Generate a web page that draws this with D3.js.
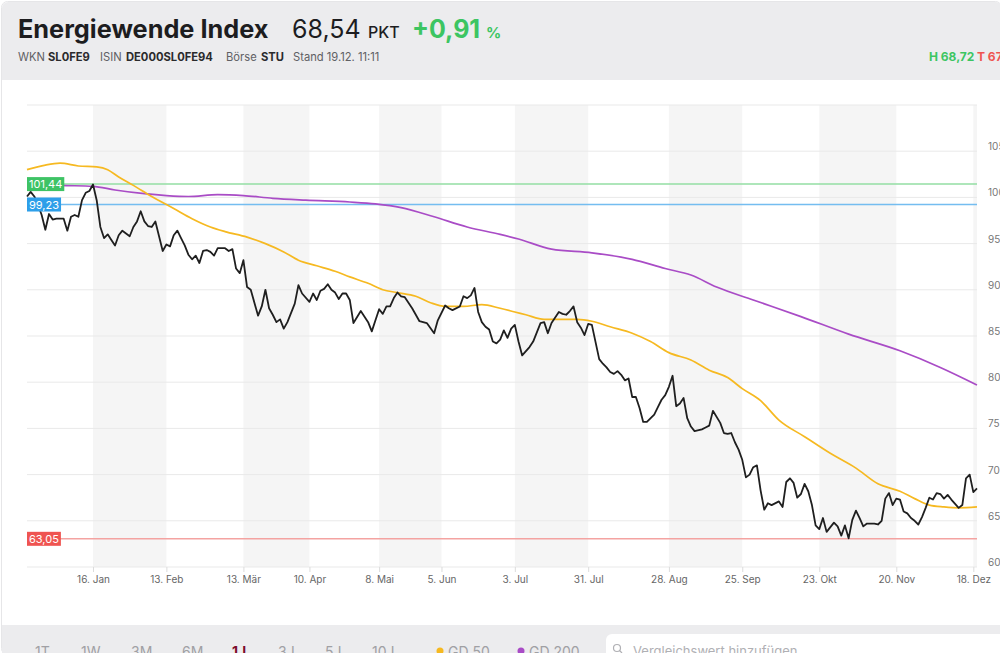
<!DOCTYPE html>
<html>
<head>
<meta charset="utf-8">
<script src="https://cdn.jsdelivr.net/npm/d3@7"></script>
<style>
  body { margin: 0; background: #fff; font-family: Inter, "Noto Sans", sans-serif; }
  svg { display: block; }
  .axis text { font-family: Inter, "Noto Sans", sans-serif; }
</style>
</head>
<body>
<div id="chart"></div>
<script>
// Handelstage seit 20.12.2022 (Index) und Schlusskurse
const priceDay = [0,1,2,3,4,5,6,7,8,10,11,12,13,14,15,16,17,18,19,20,21,22,23,24,25,26,28,29,30,31,32,33,34,35,36,37,38,39,40,41,42,43,44,45,46,47,48,49,50,51,52,54,55,56,57,58,59,60,61,63,64,65,66,67,68,69,70,71,73,74,75,77,78,79,80,81,82,83,84,85,86,87,88,89,91,93,94,95,96,97,98,99,100,101,102,103,105,107,108,109,111,112,114,115,116,118,119,120,121,122,123,124,125,126,127,128,129,130,131,132,133,134,135,137,138,140,141,142,143,144,145,146,147,148,149,150,151,152,153,154,156,157,158,159,160,161,162,163,164,165,166,167,168,169,171,172,173,174,175,176,177,178,179,180,181,182,184,185,186,187,189,190,191,192,193,194,195,196,197,198,199,200,201,202,203,205,206,207,208,209,210,211,212,213,214,215,216,217,218,220,221,222,223,224,225,226,227,228,229,231,232,233,234,235,236,237,238,239,240,241,242,243,244,245,246,247,248,249,250,251,252,254,255,256,257,258,259];
const priceValue = [100.1,100.6,100.1,99.2,98.1,96.5,98.2,97.6,97.7,97.7,96.4,97.9,98.1,97.9,99.7,100.5,100.7,101.4,99.7,96.8,95.6,96.0,95.4,94.8,95.9,96.4,95.8,96.8,97.4,98.5,97.4,96.9,96.8,97.4,95.8,94.2,94.9,94.7,95.9,96.4,95.6,94.8,93.8,93.3,93.7,92.9,94.2,94.3,94.1,93.7,94.5,94.5,94.2,94.4,92.3,91.8,93.2,90.3,90.0,87.2,88.2,90.0,88.0,87.3,86.5,86.8,85.8,86.5,88.5,90.5,89.6,88.7,89.6,88.9,89.9,90.1,90.6,90.0,89.7,89.0,89.6,89.6,88.9,86.4,87.7,86.5,85.5,86.7,87.9,87.4,88.2,88.2,89.1,89.7,89.3,89.2,88.0,86.6,86.5,86.4,85.3,86.7,88.3,88.0,87.8,88.2,89.3,89.1,89.4,90.2,87.6,86.5,86.0,85.7,84.4,84.2,84.6,85.6,84.8,85.8,86.2,84.4,82.9,83.8,84.4,86.4,86.5,85.3,86.4,87.0,87.6,87.4,87.3,87.7,88.2,86.5,85.9,85.1,86.3,86.2,82.5,82.0,81.6,81.1,80.9,81.2,80.8,80.2,80.4,78.4,78.4,77.2,75.7,75.7,76.5,77.3,78.1,78.6,79.5,80.7,77.4,77.7,78.3,76.1,75.2,74.7,74.9,75.1,75.3,76.9,75.6,74.5,74.4,74.5,73.5,72.7,71.6,69.7,70.0,70.8,71.0,68.3,66.2,66.9,66.7,67.1,66.5,69.2,69.6,69.1,67.5,67.9,69.0,68.2,66.7,64.5,64.1,65.3,63.8,64.8,64.4,63.4,64.5,63.1,65.1,66.1,65.3,64.4,64.7,64.7,64.6,65.0,67.4,68.0,66.7,67.4,67.3,66.0,65.8,65.3,65.0,64.6,65.4,66.4,67.5,67.3,68.0,67.9,67.4,67.8,67.3,66.4,66.7,69.6,70.0,68.1,68.5];

// gleitende Durchschnitte
const gd50Day = [0,5,9,14,19,22,25,29,34,40,45,50,54,60,65,70,74,79,84,88,93,97,101,106,110,114,119,124,129,133,136,141,145,150,154,159,165,170,175,181,186,191,195,200,205,212,219,226,232,238,242,246,250,254,259];
const gd50Value = [103.0,103.5,103.7,103.4,103.3,103.0,102.2,101.3,100.1,98.8,97.7,96.8,96.3,95.7,95.0,94.1,93.2,92.6,92.0,91.4,90.7,90.0,89.7,89.3,88.6,88.2,88.2,88.4,88.0,87.6,87.3,86.8,86.8,86.8,86.6,86.0,85.3,84.4,83.2,82.4,81.3,80.5,79.3,78.0,75.9,74.1,72.3,70.7,69.0,68.2,67.4,66.7,66.5,66.4,66.5];
const gd200Day = [0,9,18,24,32,38,44,52,59,67,76,88,95,102,111,120,129,134,143,154,165,174,181,188,198,211,224,238,249,259];
const gd200Value = [101.5,101.3,101.2,100.8,100.4,100.2,100.1,100.3,100.2,99.9,99.7,99.5,99.3,98.9,97.9,96.8,96.0,95.5,94.4,94.0,93.3,92.3,91.6,90.3,88.9,87.1,85.2,83.4,81.6,79.7];

// Achsen
const tickDay = [18,38,59,77,96,113,133,153,175,195,216,237,258];
const tickLabel = ['16. Jan','13. Feb','13. Mär','10. Apr','8. Mai','5. Jun','3. Jul','31. Jul','28. Aug','25. Sep','23. Okt','20. Nov','18. Dez'];
const yTicks = [60,65,70,75,80,85,90,95,100,105];
const lastDay = 259;

// Hoch / Tief / Referenz
const refValue = [101.44, 99.23, 63.05];
const refLabel = ['101,44', '99,23', '63,05'];
const refLine = ['#93dea3', '#74bdf0', '#f4a3a1'];
const refBox = ['#3ec365', '#2e9fe9', '#ef5451'];

const W = 1000, H = 653;
const svg = d3.select('#chart').append('svg').attr('width', W).attr('height', H);

// Rahmen
svg.append('rect').attr('x', 1.5).attr('y', 1.5).attr('width', W).attr('height', H)
  .attr('rx', 6).attr('fill', '#fff').attr('stroke', '#e6e6e8');

// Kopfbereich
svg.append('rect').attr('x', 2).attr('y', 2).attr('width', W).attr('height', 78).attr('rx', 6).attr('fill', '#ececee');
svg.append('rect').attr('x', 2).attr('y', 40).attr('width', W).attr('height', 40).attr('fill', '#ececee');

const head = svg.append('g');
head.append('text').attr('x', 18).attr('y', 38).attr('font-size', 25.3).attr('font-weight', 700)
  .attr('fill', '#1d1d1f').text('Energiewende Index');
head.append('text').attr('x', 292).attr('y', 38).attr('font-size', 25).attr('font-weight', 400)
  .attr('fill', '#1d1d1f').text('68,54');
head.append('text').attr('x', 368).attr('y', 38).attr('font-size', 16).attr('font-weight', 500)
  .attr('fill', '#1d1d1f').text('PKT');
head.append('text').attr('x', 412).attr('y', 38).attr('font-size', 25).attr('font-weight', 700)
  .attr('fill', '#3cc562').text('+0,91');
head.append('text').attr('x', 486).attr('y', 38).attr('font-size', 15).attr('font-weight', 700)
  .attr('fill', '#3cc562').text('%');

const meta = [
  ['WKN', 18, 400], ['SL0FE9', 48, 700], ['ISIN', 100, 400], ['DE000SL0FE94', 126, 700],
  ['Börse', 226, 400], ['STU', 261, 700], ['Stand 19.12. 11:11', 293, 400]
];
head.selectAll('text.meta').data(meta).enter().append('text')
  .attr('class', 'meta')
  .attr('x', d => d[1]).attr('y', 61)
  .attr('font-size', 11.2)
  .attr('font-weight', d => d[2])
  .attr('fill', d => d[2] === 700 ? '#2a2a2c' : '#606064')
  .text(d => d[0]);
head.append('text').attr('x', 929).attr('y', 61).attr('font-size', 12).attr('font-weight', 700)
  .attr('fill', '#3cc562').text('H 68,72');
head.append('text').attr('x', 977).attr('y', 61).attr('font-size', 12).attr('font-weight', 700)
  .attr('fill', '#ef5451').text('T 67');

// Skalen
const x = d3.scaleLinear().domain([0, lastDay]).range([27, 977]);
const y = d3.scaleLinear().domain([60, 110]).range([567, 105]);

const plot = svg.append('g');

// Monatsstreifen
const bands = tickDay.filter((d, i) => i % 2 === 0)
  .map(d => [d, tickDay[tickDay.indexOf(d) + 1] || lastDay]);
plot.selectAll('rect.band').data(bands).enter().append('rect')
  .attr('class', 'band')
  .attr('x', d => x(d[0])).attr('width', d => x(d[1]) - x(d[0]))
  .attr('y', y(110)).attr('height', y(60) - y(110))
  .attr('fill', '#f5f5f5');

// Gitterlinien
plot.selectAll('line.grid').data(d3.range(60, 111, 5)).enter().append('line')
  .attr('class', 'grid')
  .attr('x1', x(0)).attr('x2', x(lastDay))
  .attr('y1', d => y(d)).attr('y2', d => y(d))
  .attr('stroke', '#e9e9e9').attr('stroke-width', 1);

// y-Beschriftung rechts
plot.selectAll('text.ylab').data(yTicks).enter().append('text')
  .attr('class', 'ylab')
  .attr('x', 988).attr('y', d => y(d) - 1)
  .attr('font-size', 10).attr('fill', '#777')
  .text(d => d);

// x-Achse
const xAxis = d3.axisBottom(x)
  .tickValues(tickDay)
  .tickFormat((d, i) => tickLabel[i])
  .tickSize(5)
  .tickPadding(4);
const gx = plot.append('g').attr('class', 'axis').attr('transform', 'translate(0,' + y(60) + ')').call(xAxis);
gx.select('.domain').remove();
gx.selectAll('line').attr('stroke', '#dcdcdc');
gx.selectAll('text').attr('font-size', 10).attr('fill', '#666');

// Referenzlinien
plot.selectAll('line.ref').data(refValue).enter().append('line')
  .attr('class', 'ref')
  .attr('x1', x(0)).attr('x2', x(lastDay))
  .attr('y1', d => y(d)).attr('y2', d => y(d))
  .attr('stroke', (d, i) => refLine[i]).attr('stroke-width', 1.5);

// Linien
const line = d3.line().x(d => x(d[0])).y(d => y(d[1]));
const smooth = d3.line().x(d => x(d[0])).y(d => y(d[1])).curve(d3.curveMonotoneX);

plot.append('path').datum(d3.zip(gd200Day, gd200Value))
  .attr('d', smooth).attr('fill', 'none').attr('stroke', '#a94cc6').attr('stroke-width', 1.7);
plot.append('path').datum(d3.zip(gd50Day, gd50Value))
  .attr('d', smooth).attr('fill', 'none').attr('stroke', '#f6b921').attr('stroke-width', 1.7);
plot.append('path').datum(d3.zip(priceDay, priceValue))
  .attr('d', line).attr('fill', 'none').attr('stroke', '#1f1f1f').attr('stroke-width', 1.8)
  .attr('stroke-linejoin', 'round');

// Wertemarken links
const tags = plot.selectAll('g.tag').data(refValue).enter().append('g')
  .attr('class', 'tag')
  .attr('transform', d => 'translate(' + x(0) + ',' + y(d) + ')');
tags.append('rect').attr('class', 'box').attr('y', -7).attr('height', 14)
  .attr('fill', (d, i) => refBox[i]);
tags.append('text').attr('x', 2).attr('y', 4).attr('font-size', 11).attr('fill', '#fff')
  .text((d, i) => refLabel[i]);
tags.each(function() {
  const g = d3.select(this);
  const w = g.select('text').node().getComputedTextLength();
  g.select('rect').attr('width', w + 4);
});

// Werkzeugleiste unten
svg.append('rect').attr('x', 2).attr('y', 625).attr('width', W).attr('height', 30).attr('fill', '#ececee');
const ranges = [['1T', 35], ['1W', 81], ['3M', 131], ['6M', 182], ['1J', 232], ['3J', 278], ['5J', 325], ['10J', 372]];
svg.selectAll('text.range').data(ranges).enter().append('text')
  .attr('class', 'range')
  .attr('x', d => d[1]).attr('y', 657)
  .attr('font-size', 14)
  .attr('font-weight', d => d[0] === '1J' ? 700 : 400)
  .attr('fill', d => d[0] === '1J' ? '#7c0b2b' : '#a0a0a4')
  .text(d => d[0]);

const legend = [['GD 50', '#f6b921', 440], ['GD 200', '#a94cc6', 521]];
const lg = svg.selectAll('g.leg').data(legend).enter().append('g').attr('class', 'leg');
lg.append('circle').attr('cx', d => d[2]).attr('cy', 651).attr('r', 3.5).attr('fill', d => d[1]);
lg.append('text').attr('x', d => d[2] + 8).attr('y', 657).attr('font-size', 14)
  .attr('fill', '#a0a0a4').text(d => d[0]);

svg.append('rect').attr('x', 606).attr('y', 634).attr('width', 400).attr('height', 30).attr('rx', 6)
  .attr('fill', '#fff');
svg.append('circle').attr('cx', 617).attr('cy', 648).attr('r', 3.5).attr('fill', 'none')
  .attr('stroke', '#b0b0b4').attr('stroke-width', 1.2);
svg.append('line').attr('x1', 619.5).attr('y1', 650.5).attr('x2', 622).attr('y2', 653)
  .attr('stroke', '#b0b0b4').attr('stroke-width', 1.2);
svg.append('text').attr('x', 633).attr('y', 656).attr('font-size', 13).attr('fill', '#b0b0b4')
  .text('Vergleichswert hinzufügen');
</script>
</body>
</html>
